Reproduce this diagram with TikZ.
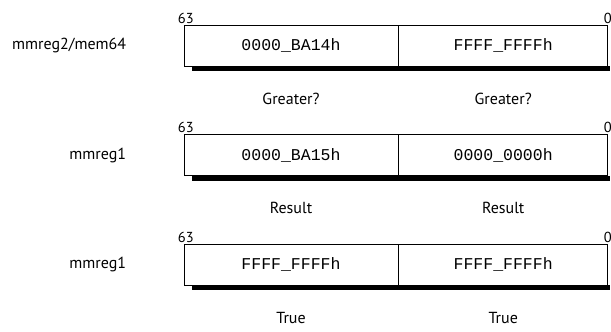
\documentclass[tikz,border=0pt]{standalone}
\usepackage{fontspec}
\setmainfont{PT Sans}
\newfontfamily\hexfont{Liberation Mono}
\usetikzlibrary{positioning}

\tikzset{
  regcell/.style = {draw, line width = 0.7pt, inner sep = 0pt, minimum height = 41pt,
    font = \hexfont\fontsize{16.5}{16.5}\selectfont},
  wide/.style = {regcell, minimum width = 214pt},
  narrow/.style = {regcell, minimum width = 209pt},
  regname/.style = {font = \fontsize{16}{16}\selectfont, anchor = east},
  bitnum/.style = {font = \fontsize{14.5}{14.5}\selectfont, inner sep = 1pt},
  caption/.style = {font = \fontsize{16}{16}\selectfont}
}

\begin{document}
\begin{tikzpicture}[x = 1pt, y = -1pt]
  \useasboundingbox (0, 0) rectangle (611, 332);

  % first operand
  \node[wide] (a1) at (291, 45.5) {0000\_BA14h};
  \node[narrow, right = 0pt of a1] (a2) {FFFF\_FFFFh};
  \fill ([xshift = 8pt]a1.south west) rectangle ([xshift = 2pt, yshift = -5pt]a2.south east);
  \node[regname, left = 54pt of a1] (n1) {mmreg2/mem64};
  \node[bitnum, anchor = south west] (h1) at ([xshift = -7pt]a1.north west) {63};
  \node[bitnum, anchor = south east] (l1) at ([xshift = 5pt]a2.north east) {0};
  \node[caption, below = 23pt of a1] (g1) {Greater?};
  \node[caption, below = 23pt of a2] (g2) {Greater?};

  % second operand
  \node[wide] (b1) at (291, 155) {0000\_BA15h};
  \node[narrow, right = 0pt of b1] (b2) {0000\_0000h};
  \fill ([xshift = 8pt]b1.south west) rectangle ([xshift = 2pt, yshift = -5pt]b2.south east);
  \node[regname, left = 54pt of b1] (n2) {mmreg1};
  \node[bitnum, anchor = south west] (h2) at ([xshift = -7pt]b1.north west) {63};
  \node[bitnum, anchor = south east] (l2) at ([xshift = 5pt]b2.north east) {0};
  \node[caption, below = 23pt of b1] (r1) {Result};
  \node[caption, below = 23pt of b2] (r2) {Result};

  % result
  \node[wide] (c1) at (291, 264.5) {FFFF\_FFFFh};
  \node[narrow, right = 0pt of c1] (c2) {FFFF\_FFFFh};
  \fill ([xshift = 8pt]c1.south west) rectangle ([xshift = 2pt, yshift = -5pt]c2.south east);
  \node[regname, left = 54pt of c1] (n3) {mmreg1};
  \node[bitnum, anchor = south west] (h3) at ([xshift = -7pt]c1.north west) {63};
  \node[bitnum, anchor = south east] (l3) at ([xshift = 5pt]c2.north east) {0};
  \node[caption, below = 23pt of c1] (t1) {True};
  \node[caption, below = 23pt of c2] (t2) {True};
\end{tikzpicture}
\end{document}
